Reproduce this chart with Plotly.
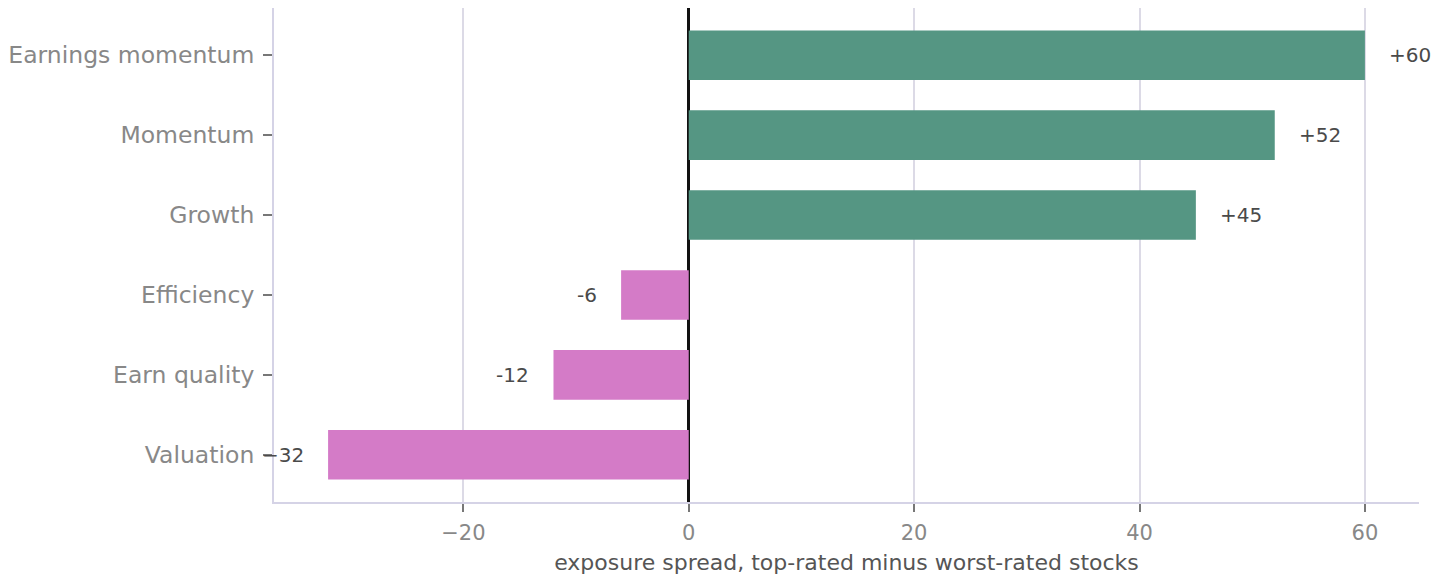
import plotly.graph_objects as go

# factor exposure spreads (top-rated minus worst-rated stocks)
factors = ["Earnings momentum", "Momentum", "Growth", "Efficiency", "Earn quality", "Valuation"]
spreads = [60, 52, 45, -6, -12, -32]
labels = ["+60", "+52", "+45", "-6", "-12", "\u221232"]

pos_color = "#559683"
neg_color = "#D47BC7"
colors = [pos_color if v > 0 else neg_color for v in spreads]

fig = go.Figure()
fig.add_trace(go.Bar(x=spreads, y=factors, orientation="h",
                     marker=dict(color=colors, line=dict(width=0)),
                     width=0.62, hoverinfo="x+y"))

# value labels just outside each bar end
for f, v, t in zip(factors, spreads, labels):
    fig.add_annotation(x=v, y=f, text=t, showarrow=False,
                       xanchor="left" if v > 0 else "right",
                       xshift=22 if v > 0 else -22,
                       font=dict(size=20, color="#4a4a4a"))

fig.update_layout(
    width=1440, height=580,
    margin=dict(l=266, r=29, t=0, b=86),
    paper_bgcolor="white", plot_bgcolor="white",
    font=dict(family="DejaVu Sans", color="#888888"),
    showlegend=False,
    bargap=0.2,
)
fig.update_xaxes(range=[-36.8, 64.8], tickvals=[-20, 0, 20, 40, 60],
                 ticktext=["\u221220", "0", "20", "40", "60"],
                 showgrid=True, gridcolor="#DCDAE6", gridwidth=1.5,
                 zeroline=True, zerolinecolor="#111111", zerolinewidth=2.5,
                 showline=True, linecolor="#D5D3E6", linewidth=2,
                 ticks="outside", ticklen=8, tickcolor="#777777", tickwidth=1.5,
                 ticklabelstandoff=3,
                 tickfont=dict(size=21, color="#888888"),
                 title=dict(text="exposure spread, top-rated minus worst-rated stocks",
                            font=dict(size=22, color="#555555"), standoff=10))
fig.update_yaxes(categoryorder="array", categoryarray=factors, autorange=False,
                 range=[5.59, -0.59], showgrid=False, zeroline=False,
                 showline=True, linecolor="#D5D3E6", linewidth=2,
                 ticks="outside", ticklen=9, tickcolor="#777777", tickwidth=1.5,
                 ticklabelstandoff=4,
                 tickfont=dict(size=23.5, color="#888888"))

fig.write_html("out.html")
